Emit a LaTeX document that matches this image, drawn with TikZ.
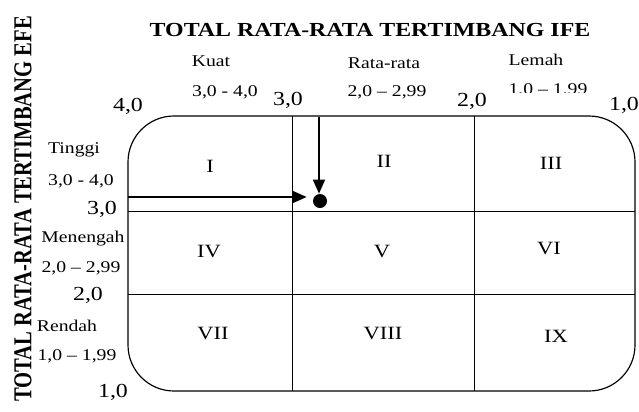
\documentclass[tikz,border=0pt]{standalone}
\usepackage{fontspec}
\setmainfont[FakeStretch=1.2]{Liberation Serif}
\newfontfamily\sidefont[FakeStretch=0.8]{Liberation Serif}
\usetikzlibrary{arrows.meta}

\begin{document}
\begin{tikzpicture}[x=0.03cm,y=-0.03cm,
  every node/.style={inner sep=0pt},
  lbl/.style={font=\fontsize{14}{16}\selectfont},
  axnum/.style={font=\fontsize{17}{19}\selectfont},
  quad/.style={font=\fontsize{16}{18}\selectfont},
  grid/.style={line width=.8pt},
  arr/.style={-{Triangle[length=12pt,width=10pt]},line width=2pt},
  dot/.style={circle,fill=black,minimum size=0.42cm}]
\useasboundingbox (0,0) rectangle (639,411);
% titles
\node[font=\fontsize{17}{19}\selectfont\bfseries] (ife) at (370,30) {TOTAL RATA-RATA TERTIMBANG IFE};
\node[rotate=90,font=\sidefont\fontsize{22}{24}\selectfont\bfseries] (efe) at (23,209) {TOTAL RATA-RATA TERTIMBANG EFE};
% matrix frame
\draw[line width=1pt,rounded corners=46*0.03cm] (128,116) rectangle (635,391);
\draw[grid] (292,116) -- (292,391);
\draw[grid] (474,116) -- (474,391);
\draw[grid] (128,211) -- (635,211);
\draw[grid] (128,294) -- (635,294);
% IFE labels
\node[lbl] (kuat) at (211,61) {Kuat};
\node[lbl] (kuatrng) at (225,92) {3,0 - 4,0};
\node[lbl] (rata) at (384,63) {Rata-rata};
\node[lbl] (ratarng) at (387,92) {2,0 -- 2,99};
\node[lbl] (lemah) at (536,60) {Lemah};
\begin{scope}
  \clip (490,70) rectangle (610,92);
  \node[lbl] (lemahrng) at (548,90) {1,0 -- 1,99};
\end{scope}
\node[axnum] (ta) at (128,106) {4,0};
\node[axnum] (tb) at (288,100) {3,0};
\node[axnum] (tc) at (472,101) {2,0};
\node[axnum] (td) at (624,105) {1,0};
% EFE labels
\node[lbl] (tinggi) at (74,150) {Tinggi};
\node[lbl] (tinggirng) at (81,181) {3,0 - 4,0};
\node[lbl] (sedang) at (83,239) {Menengah};
\node[lbl] (sedangrng) at (81,268) {2,0 -- 2,99};
\node[lbl] (rendah) at (67,326) {Rendah};
\node[lbl] (rendahrng) at (77,356) {1,0 -- 1,99};
\node[axnum] (la) at (102,209) {3,0};
\node[axnum] (lb) at (88,295) {2,0};
\node[axnum] (lc) at (113,392) {1,0};
% cells
\node[quad] (q1) at (210,166) {I};
\node[quad] (q2) at (384,161) {II};
\node[quad] (q3) at (551,163) {III};
\node[quad] (q4) at (209,251) {IV};
\node[quad] (q5) at (382,251) {V};
\node[quad] (q6) at (549,248) {VI};
\node[quad] (q7) at (213,333) {VII};
\node[quad] (q8) at (383,333) {VIII};
\node[quad] (q9) at (556,336) {IX};
% position
\node[dot] (pos) at (320,201) {};
\coordinate (hstart) at (128,197);
\coordinate (vstart) at (319,117);
\draw[arr,shorten >=6*0.03cm] (hstart) -- (hstart -| pos.west);
\draw[arr] (vstart) -- (vstart |- pos.north);
\end{tikzpicture}
\end{document}
